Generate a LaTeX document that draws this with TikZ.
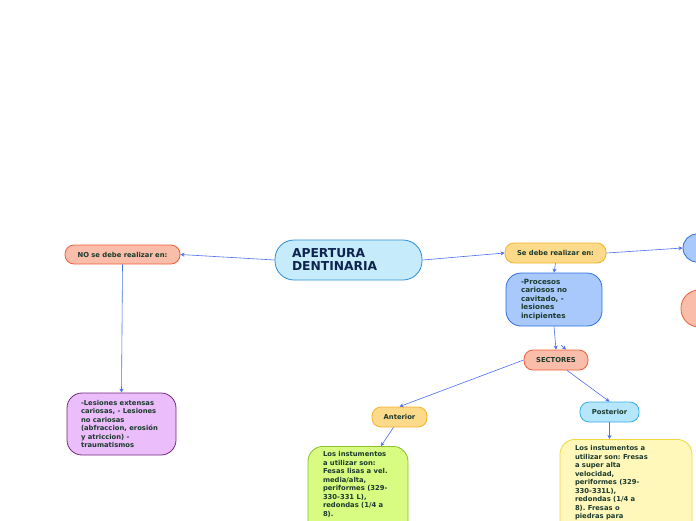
\documentclass[tikz,border=0pt]{standalone}
\usepackage{fontspec}
\setmainfont{DejaVu Sans}
\usetikzlibrary{arrows.meta}
\frenchspacing
\definecolor{conn}{HTML}{4A6FF2}
\definecolor{txtg}{HTML}{1B3A2C}
\definecolor{navy}{HTML}{0E2350}
\definecolor{rootf}{HTML}{C6EBFB}\definecolor{rootd}{HTML}{2D8ED2}
\definecolor{orgf}{HTML}{F9BDA9}\definecolor{orgd}{HTML}{EC5F3A}
\definecolor{yelf}{HTML}{FDD98A}\definecolor{yeld}{HTML}{F2B22A}
\definecolor{bluf}{HTML}{A9C9FC}\definecolor{blud}{HTML}{2F6EE0}
\definecolor{cyaf}{HTML}{B5E6FB}\definecolor{cyad}{HTML}{3AAEE8}
\definecolor{purf}{HTML}{EBBDFB}\definecolor{purd}{HTML}{74287F}
\definecolor{grnf}{HTML}{D8FB82}\definecolor{grnd}{HTML}{8AC02A}
\definecolor{ltyf}{HTML}{FFF8BA}\definecolor{ltyd}{HTML}{EFD83E}
\tikzset{
  pill/.style={rectangle, rounded corners=9pt, line width=0.8pt, inner sep=0pt,
    font=\fontsize{6.8}{8}\selectfont\bfseries, text=txtg, align=center},
  tbox/.style={rectangle, rounded corners=15pt, line width=0.8pt, inner sep=0pt,
    font=\fontsize{6.8}{8.5}\selectfont\bfseries, text=txtg, align=left},
  conn/.style={draw=conn, line width=0.6pt, -{Stealth[length=4pt,width=4pt]}}
}
\begin{document}
\begin{tikzpicture}[x=1pt,y=-1pt]
\useasboundingbox (0,0) rectangle (696,520);
\clip (0,0) rectangle (696,520);
% root
\node[rectangle, rounded corners=19pt, line width=0.8pt, draw=rootd, fill=rootf,
  minimum width=147pt, minimum height=40pt, inner sep=0pt, text=navy,
  font=\fontsize{12.3}{13}\selectfont\bfseries, align=left]
  (root) at (348.5,260) {\makebox[113pt][l]{APERTURA}\\DENTINARIA};
\node[pill, draw=orgd, fill=orgf, minimum width=115pt, minimum height=19pt] (no) at (122.5,254.5) {NO se debe realizar en:};
\node[pill, draw=yeld, fill=yelf, minimum width=101pt, minimum height=20pt] (se) at (555.5,253) {Se debe realizar en:};
\node[rectangle, rounded corners=14pt, line width=0.8pt, draw=blud, fill=bluf, minimum width=40pt, minimum height=28pt] (rb) at (703,248) {};
\node[rectangle, rounded corners=18pt, line width=0.8pt, draw=orgd, fill=orgf, minimum width=44pt, minimum height=37pt] (ro) at (703,308.5) {};
\node[tbox, draw=blud, fill=bluf, minimum width=96pt, minimum height=53pt, font=\fontsize{7.2}{8.5}\selectfont\bfseries] (proc) at (554,299.5)
  {\hspace{4pt}\parbox{70pt}{\raggedright -Procesos\\cariosos no\\cavitado, -\\lesiones\\incipientes}};
\node[pill, draw=orgd, fill=orgf, minimum width=64pt, minimum height=20pt] (sec) at (556,360) {SECTORES};
\node[pill, draw=yeld, fill=yelf, minimum width=55pt, minimum height=20pt] (ant) at (399.5,417) {Anterior};
\node[pill, draw=cyad, fill=cyaf, minimum width=59pt, minimum height=20pt] (post) at (609.5,412) {Posterior};
\node[tbox, draw=purd, fill=purf, minimum width=109pt, minimum height=62pt] (les) at (121.5,424)
  {\hspace{9pt}\parbox{90pt}{\raggedright -Lesiones extensas\\cariosas, - Lesiones\\no cariosas\\(abfraccion, erosión\\y atriccion) -\\traumatismos}};
\node[tbox, draw=grnd, fill=grnf, minimum width=100pt, anchor=north] (antx) at (358,446)
  {\hspace{6pt}\parbox[c][110pt][t]{76pt}{\raggedright\vspace{5pt}Los instumentos\\a utilizar son:\\Fesas lisas a vel.\\media/alta,\\periformes (329-\\330-331 L),\\redondas (1/4 a\\8).}};
\node[tbox, draw=ltyd, fill=ltyf, minimum width=132pt, anchor=north] (postx) at (626,439)
  {\hspace{2pt}\parbox[c][120pt][t]{104pt}{\raggedright\vspace{6pt}Los instumentos a\\utilizar son: Fresas\\a super alta\\velocidad,\\periformes (329-\\330-331L),\\redondas (1/4 a\\8). Fresas o\\piedras para}};
% connectors
\draw[conn] (root.west) -- (no.east);
\draw[conn] (root.east) -- (se.west);
\draw[conn] (se.east) -- (rb.west);
\draw[conn] (no.south) -- (les.north);
\draw[conn] (se.south) -- (proc.north);
\draw[conn] (proc.south) -- (sec.north);
\coordinate (hid) at (561,345);
\draw[conn] (hid) -- (566,349.5);
\draw[conn] (sec.west) -- (ant.north);
\draw[conn] (sec.south) ++(11,0) coordinate (secs) -- (post.north);
\draw[conn] (ant.south) ++(-6,0) -- ([xshift=23pt]antx.north);
\draw[conn] (post.south) -- (postx.north -| post.south);
\end{tikzpicture}
\end{document}
